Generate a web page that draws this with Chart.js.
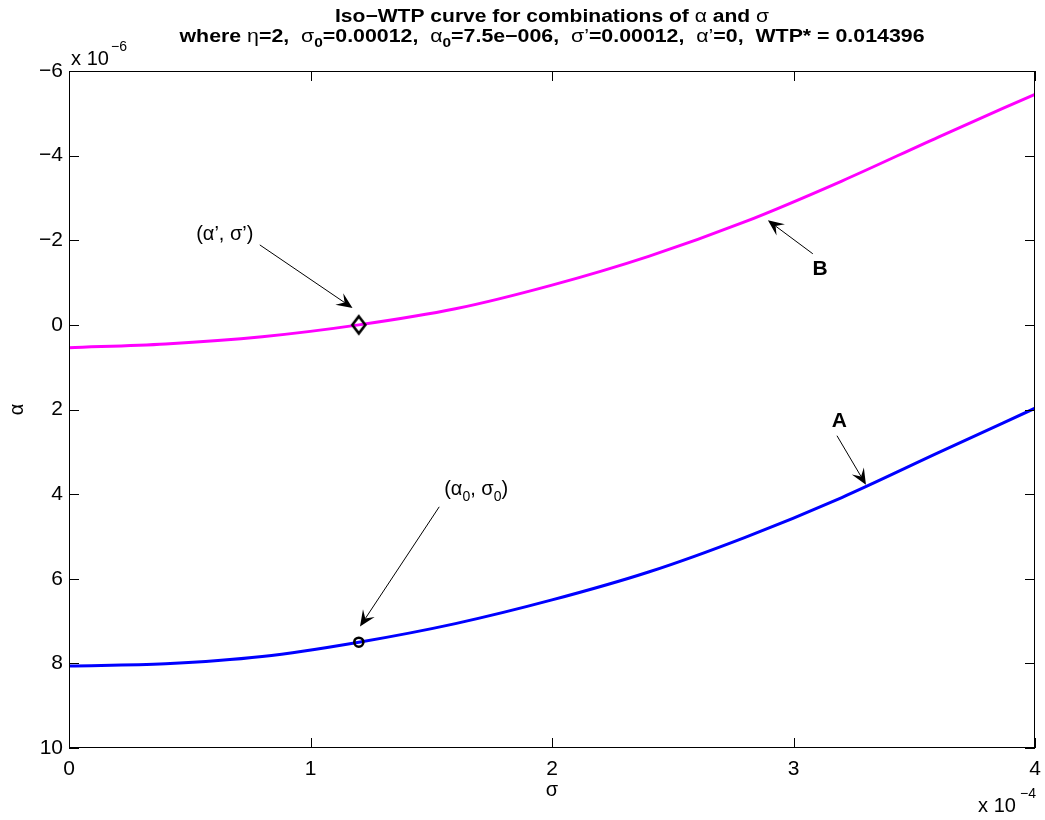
<!DOCTYPE html>
<html>
<head>
<meta charset="utf-8">
<script src="https://cdn.jsdelivr.net/npm/chart.js@4.4.0/dist/chart.umd.min.js"></script>
<style>
  body { margin: 0; background: #fff; }
  #wrap { width: 1045px; height: 820px; }
</style>
</head>
<body>
<div id="wrap"><canvas id="chart" width="1045" height="820"></canvas></div>
<script>
// Data (sigma in units of 1e-4, alpha in units of 1e-6)
const sigma  = [0, 0.4, 0.8, 1.2, 1.6, 2.0, 2.4, 2.8, 3.2, 3.6, 4.0];
const alphaB = [0.54, 0.45, 0.28, 0.0, -0.38, -0.94, -1.62, -2.44, -3.40, -4.44, -5.45];
const alphaA = [8.06, 8.01, 7.84, 7.50, 7.06, 6.50, 5.84, 5.02, 4.08, 3.02, 1.97];

// reference points
const sigmaPrime = 1.2, alphaPrime = 0;
const sigma0 = 1.2, alpha0 = 7.5;

const xTicks = [0, 1, 2, 3, 4];
const yTicks = [-6, -4, -2, 0, 2, 4, 6, 8, 10];

// annotations, in data units: label centre, arrow tail, arrow tip
const notes = [
  { label: "B",    bold: true, at: [3.11, -1.32], tail: [3.08, -1.68], tip: [2.894, -2.47] },
  { label: "A",    bold: true, at: [3.19, 2.27],  tail: [3.18, 2.62],  tip: [3.30, 3.78] },
  { label: "prime",            at: [0.645, -2.17], tail: [0.79, -1.89], tip: [1.174, -0.40] },
  { label: "zero",             at: [1.686, 3.85],  tail: [1.533, 4.30], tip: [1.205, 7.13] }
];

const FONT = "'Liberation Sans', Arial, Helvetica, sans-serif";
const minus = (v) => (v < 0 ? "\u2212" + Math.abs(v) : String(v));

// diamond marker (taller than wide, like matlab)
function diamondMarker() {
  const c = document.createElement("canvas");
  c.width = 18; c.height = 22;
  const g = c.getContext("2d");
  g.strokeStyle = "#000";
  g.lineWidth = 2.6;
  g.beginPath();
  g.moveTo(9, 2.5); g.lineTo(15.5, 11); g.lineTo(9, 19.5); g.lineTo(2.5, 11);
  g.closePath();
  g.stroke();
  return c;
}

// rich text: array of [text, font, dy]; optional target width stretches horizontally
function drawRich(ctx, segs, cx, baseline, target) {
  let w = 0;
  segs.forEach((s) => { ctx.font = s[1]; w += ctx.measureText(s[0]).width; });
  const k = target ? target / w : 1;
  ctx.save();
  ctx.translate(cx, 0);
  ctx.scale(k, 1);
  let x = -w / 2;
  ctx.textAlign = "left";
  ctx.textBaseline = "alphabetic";
  segs.forEach((s) => {
    ctx.font = s[1];
    ctx.fillText(s[0], x, baseline + (s[2] || 0));
    x += ctx.measureText(s[0]).width;
  });
  ctx.restore();
}

function drawArrow(ctx, x1, y1, x2, y2) {
  const L = 16, W = 7;
  const a = Math.atan2(y2 - y1, x2 - x1);
  const ux = Math.cos(a), uy = Math.sin(a);
  const nx = -uy, ny = ux;
  const nxp = x2 - ux * L * 0.6, nyp = y2 - uy * L * 0.6;
  ctx.strokeStyle = "#000";
  ctx.fillStyle = "#000";
  ctx.lineWidth = 1;
  ctx.beginPath();
  ctx.moveTo(x1, y1);
  ctx.lineTo(nxp, nyp);
  ctx.stroke();
  ctx.beginPath();
  ctx.moveTo(x2, y2);
  ctx.lineTo(x2 - ux * L + nx * W, y2 - uy * L + ny * W);
  ctx.lineTo(nxp, nyp);
  ctx.lineTo(x2 - ux * L - nx * W, y2 - uy * L - ny * W);
  ctx.closePath();
  ctx.fill();
}

const decor = {
  id: "decor",
  afterDraw(chart) {
    const ctx = chart.ctx;
    const a = chart.chartArea;
    const xs = chart.scales.x, ys = chart.scales.y;
    ctx.save();

    // box + inward ticks
    ctx.strokeStyle = "#000";
    ctx.lineWidth = 1;
    ctx.strokeRect(a.left + 0.5, a.top + 0.5, a.right - a.left - 1, a.bottom - a.top - 1);
    const tl = 10;
    ctx.beginPath();
    xTicks.forEach((t) => {
      const px = Math.round(xs.getPixelForValue(t)) + 0.5;
      ctx.moveTo(px, a.bottom); ctx.lineTo(px, a.bottom - tl);
      ctx.moveTo(px, a.top); ctx.lineTo(px, a.top + tl);
    });
    yTicks.forEach((t) => {
      const py = Math.round(ys.getPixelForValue(t)) + 0.5;
      ctx.moveTo(a.left, py); ctx.lineTo(a.left + tl, py);
      ctx.moveTo(a.right, py); ctx.lineTo(a.right - tl, py);
    });
    ctx.stroke();

    ctx.fillStyle = "#000";
    const cx = (a.left + a.right) / 2;
    const B = "bold 18px " + FONT, R = "18px " + FONT, S = "bold 13px " + FONT;

    // title
    drawRich(ctx, [["Iso\u2212WTP curve for combinations of ", B], ["\u03b1", R], [" and ", B], ["\u03c3", R]], cx, 22, 434);
    drawRich(ctx, [
      ["where ", B], ["\u03b7", R], ["=2,  ", B],
      ["\u03c3", R], ["0", S, 5], ["=0.00012,  ", B],
      ["\u03b1", R], ["0", S, 5], ["=7.5e\u2212006,  ", B],
      ["\u03c3\u2019", R], ["=0.00012,  ", B],
      ["\u03b1\u2019", R], ["=0,  WTP* = 0.014396", B]
    ], cx, 42, 745);

    // exponents
    drawRich(ctx, [["x 10", "20px " + FONT]], a.left + 21, 65);
    drawRich(ctx, [["\u22126", "14px " + FONT]], a.left + 50, 51);
    drawRich(ctx, [["x 10", "20px " + FONT]], 997, 812);
    drawRich(ctx, [["\u22124", "14px " + FONT]], 1028, 798);

    // axis titles
    ctx.font = "20px " + FONT;
    ctx.textAlign = "center";
    ctx.textBaseline = "middle";
    ctx.fillText("\u03c3", cx, 790);
    ctx.save();
    ctx.translate(17, (a.top + a.bottom) / 2);
    ctx.rotate(-Math.PI / 2);
    ctx.fillText("\u03b1", 0, 0);
    ctx.restore();

    // annotations
    notes.forEach((n) => {
      const px = xs.getPixelForValue(n.at[0]), py = ys.getPixelForValue(n.at[1]);
      if (n.label === "prime") {
        drawRich(ctx, [["(\u03b1\u2019, \u03c3\u2019)", "20px " + FONT]], px, py + 7);
      } else if (n.label === "zero") {
        const r = "20px " + FONT, s = "14px " + FONT;
        drawRich(ctx, [["(\u03b1", r], ["0", s, 6], [", \u03c3", r], ["0", s, 6], [")", r]], px, py + 7);
      } else {
        ctx.font = "bold 21px " + FONT;
        ctx.textAlign = "center";
        ctx.textBaseline = "middle";
        ctx.fillText(n.label, px, py);
      }
      drawArrow(ctx,
        xs.getPixelForValue(n.tail[0]), ys.getPixelForValue(n.tail[1]),
        xs.getPixelForValue(n.tip[0]), ys.getPixelForValue(n.tip[1]));
    });
    ctx.restore();
  }
};

const pts = (xv, yv) => xv.map((x, i) => ({ x, y: yv[i] }));

new Chart(document.getElementById("chart"), {
  type: "scatter",
  data: {
    datasets: [
      {
        data: [{ x: sigmaPrime, y: alphaPrime }],
        pointStyle: diamondMarker(),
        pointRadius: 9,
        showLine: false
      },
      {
        data: [{ x: sigma0, y: alpha0 }],
        pointStyle: "circle",
        pointRadius: 4.5,
        borderWidth: 2.6,
        borderColor: "#000",
        backgroundColor: "rgba(0,0,0,0)",
        showLine: false
      },
      {
        data: pts(sigma, alphaB),
        showLine: true,
        borderColor: "#ff00ff",
        borderWidth: 3,
        pointRadius: 0,
        cubicInterpolationMode: "monotone"
      },
      {
        data: pts(sigma, alphaA),
        showLine: true,
        borderColor: "#0000ff",
        borderWidth: 3,
        pointRadius: 0,
        cubicInterpolationMode: "monotone"
      }
    ]
  },
  options: {
    responsive: false,
    animation: false,
    layout: { padding: { top: 71, right: 8, left: 0, bottom: 0 } },
    plugins: { legend: { display: false }, tooltip: { enabled: false } },
    scales: {
      x: {
        type: "linear",
        min: 0,
        max: 4,
        afterBuildTicks: (s) => { s.ticks = xTicks.map((v) => ({ value: v })); },
        afterFit: (s) => { s.height = 72; s.paddingLeft = 0; s.paddingRight = 0; },
        grid: { display: false, drawTicks: false },
        border: { display: false },
        ticks: { color: "#000", padding: 9, font: { family: FONT, size: 21 }, callback: minus }
      },
      y: {
        type: "linear",
        reverse: true,
        min: -6,
        max: 10,
        afterBuildTicks: (s) => { s.ticks = yTicks.map((v) => ({ value: v })); },
        afterFit: (s) => { s.width = 69; s.paddingTop = 0; s.paddingBottom = 0; },
        grid: { display: false, drawTicks: false },
        border: { display: false },
        ticks: { color: "#000", padding: 6, font: { family: FONT, size: 21 }, callback: minus }
      }
    }
  },
  plugins: [decor]
});
</script>
</body>
</html>
